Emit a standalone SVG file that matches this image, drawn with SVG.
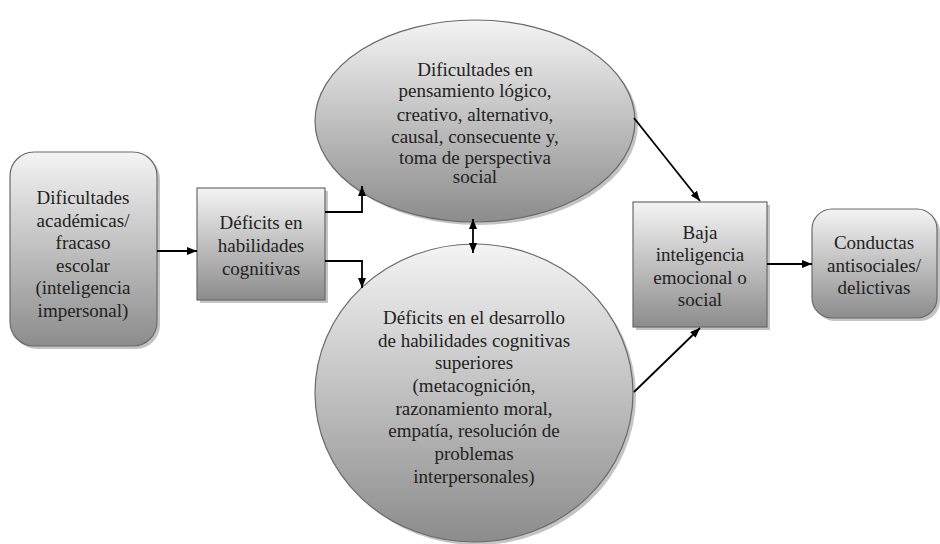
<svg xmlns="http://www.w3.org/2000/svg" width="940" height="544" viewBox="0 0 940 544">
<defs>
<linearGradient id="g" x1="0" y1="0" x2="0" y2="1">
<stop offset="0" stop-color="#f4f4f4"/>
<stop offset="1" stop-color="#8c8c8c"/>
</linearGradient>
<marker id="ah" viewBox="0 0 10 8" refX="10" refY="4" markerWidth="10" markerHeight="8" markerUnits="userSpaceOnUse" orient="auto-start-reverse">
<path d="M0,0 L10,4 L0,8 Z" fill="#000"/>
</marker>
</defs>
<style>
.n{fill:url(#g);stroke:#6a6a6a;stroke-width:1.2}
.sh{fill:#c4c4c4}
text{font-family:'Liberation Serif','DejaVu Serif',serif;font-size:19px;fill:#222;text-anchor:middle}
.c{fill:none;stroke:#000;stroke-width:1.8;marker-end:url(#ah)}
</style>
<rect width="940" height="544" fill="#fff"/>
<g id="n1">
<rect class="sh" x="13" y="155" width="147" height="194" rx="24"/>
<rect class="n" x="10" y="152" width="147" height="194" rx="24"/>
<text x="83" y="204">Dificultades</text>
<text x="83" y="227">académicas/</text>
<text x="83" y="249">fracaso</text>
<text x="83" y="272">escolar</text>
<text x="83" y="294">(inteligencia</text>
<text x="83" y="317">impersonal)</text>
</g>
<g id="n2">
<rect class="sh" x="200" y="191" width="128" height="112"/>
<rect class="n" x="197" y="188" width="128" height="112"/>
<text x="261" y="229">Déficits en</text>
<text x="261" y="252">habilidades</text>
<text x="261" y="275">cognitivas</text>
</g>
<g id="n3">
<ellipse class="sh" cx="478" cy="124" rx="160" ry="101"/>
<ellipse class="n" cx="475" cy="121" rx="160" ry="101"/>
<text x="475" y="76">Dificultades en</text>
<text x="475" y="97">pensamiento lógico,</text>
<text x="475" y="121">creativo, alternativo,</text>
<text x="475" y="143">causal, consecuente y,</text>
<text x="475" y="164">toma de perspectiva</text>
<text x="475" y="183">social</text>
</g>
<g id="n4">
<ellipse class="sh" cx="477" cy="396" rx="159" ry="149"/>
<ellipse class="n" cx="474" cy="393" rx="159" ry="149"/>
<text x="474" y="324">Déficits en el desarrollo</text>
<text x="474" y="347">de habilidades cognitivas</text>
<text x="474" y="369">superiores</text>
<text x="474" y="392">(metacognición,</text>
<text x="474" y="415">razonamiento moral,</text>
<text x="474" y="437">empatía, resolución de</text>
<text x="474" y="460">problemas</text>
<text x="474" y="483">interpersonales)</text>
</g>
<g id="n5">
<rect class="sh" x="636" y="205" width="134" height="125"/>
<rect class="n" x="633" y="202" width="134" height="125"/>
<text x="700" y="239">Baja</text>
<text x="700" y="261">inteligencia</text>
<text x="700" y="284">emocional o</text>
<text x="700" y="306">social</text>
</g>
<g id="n6">
<rect class="sh" x="815" y="212" width="125" height="109" rx="20"/>
<rect class="n" x="812" y="209" width="125" height="109" rx="20"/>
<text x="874" y="249">Conductas</text>
<text x="874" y="272">antisociales/</text>
<text x="874" y="294">delictivas</text>
</g>
<g id="connectors">
<path class="c" d="M157,251 H197"/>
<path class="c" d="M325,212 H362 V186"/>
<path class="c" d="M325,261 H362 V288"/>
<path class="c" d="M473,219 V253" marker-start="url(#ah)"/>
<path class="c" d="M634,118 L700,201"/>
<path class="c" d="M634,392 L700,328"/>
<path class="c" d="M767,264 H812"/>
</g>
</svg>
